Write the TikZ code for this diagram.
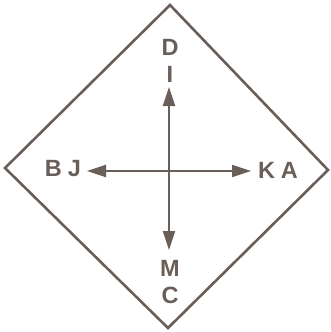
\documentclass[tikz,border=0pt]{standalone}
\usepackage{fontspec}
\setsansfont{Liberation Sans}
\usetikzlibrary{arrows.meta,positioning}
\definecolor{PlateInk}{HTML}{6A5E59}
\tikzset{
  every node/.style={font=\sffamily\bfseries\fontsize{23.5}{26}\selectfont, text=PlateInk},
  frame/.style={draw=PlateInk, line width=2.6pt, line join=miter},
  pointer/.style={-{Triangle[length=19pt,width=12pt]}, draw=PlateInk, fill=PlateInk, line width=1.8pt},
}
\begin{document}
\begin{tikzpicture}[x=1pt,y=-1pt]
  \useasboundingbox (0,0) rectangle (330,332);
  % outer diamond
  \coordinate (top) at (170,5);
  \coordinate (left) at (5,168);
  \coordinate (bottom) at (168,328);
  \coordinate (right) at (328,170);
  \draw[frame] (top) -- (right) -- (bottom) -- (left) -- cycle;
  % labels
  \node (d) at (170,47) {D};
  \node (i) at (170,74) {I};
  \node (bj) at (63,169) {B\hspace{6pt}J};
  \node (ka) at (278,170) {K\hspace{6pt}A};
  \node (m) at (170,268) {M};
  \node (c) at (170,295) {C};
  % arrows from the centre
  \coordinate (hub) at (169,171);
  \coordinate (tipN) at (169,87);
  \coordinate (tipS) at (169,250);
  \coordinate (tipW) at (87,171);
  \coordinate (tipE) at (251,171);
  \draw[pointer] (hub) -- (tipN);
  \draw[pointer] (hub) -- (tipS);
  \draw[pointer] (hub) -- (tipW);
  \draw[pointer] (hub) -- (tipE);
\end{tikzpicture}
\end{document}
